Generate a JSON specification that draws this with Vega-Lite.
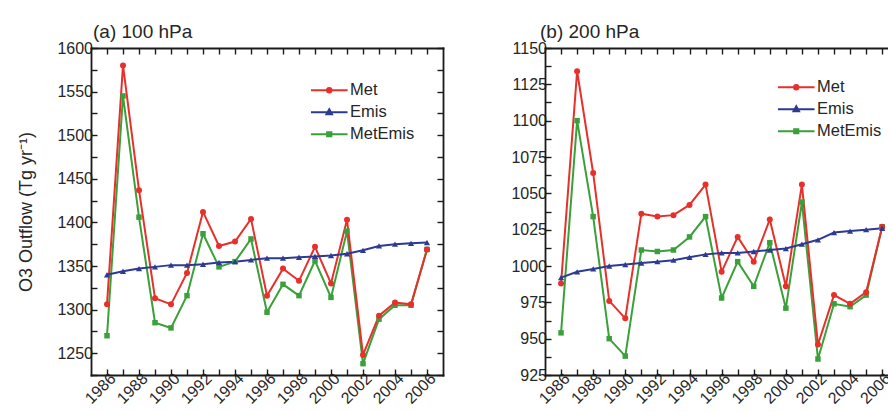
{
  "$schema": "https://vega.github.io/schema/vega-lite/v6.json",
  "background": "white",
  "padding": {"left": 17, "top": 23, "right": 0, "bottom": 0},
  "spacing": 66,
  "config": {
    "font": "Liberation Sans",
    "view": {"stroke": null},
    "axis": {
      "grid": false,
      "domainColor": "#1a1a1a",
      "domainWidth": 1.8,
      "domainCap": "square",
      "tickColor": "#1a1a1a",
      "tickWidth": 1.4,
      "tickSize": -6,
      "labelFont": "Liberation Sans",
      "labelFontSize": 16,
      "labelColor": "#262626",
      "labelOverlap": false,
      "labelBound": false,
      "labelFlush": false,
      "titleFont": "Liberation Sans",
      "titleFontSize": 18,
      "titleFontWeight": "normal",
      "titleColor": "#262626"
    },
    "axisX": {"labelPadding": 1},
    "axisY": {"labelPadding": 4.5},
    "title": {
      "anchor": "start",
      "frame": "group",
      "font": "Liberation Sans",
      "fontSize": 19,
      "fontWeight": "normal",
      "color": "#262626",
      "baseline": "alphabetic",
      "offset": -2
    },
    "legend": {
      "labelFont": "Liberation Sans",
      "labelFontSize": 16.5,
      "labelColor": "#262626",
      "symbolSize": 100,
      "labelOffset": 12.5,
      "rowPadding": 5,
      "padding": 0,
      "titleFont": "Liberation Sans",
      "titleColor": "white"
    }
  },
  "datasets": {
    "a": [
      {"year": 1986, "series": "MetEmis", "value": 1270}, {"year": 1987, "series": "MetEmis", "value": 1545}, {"year": 1988, "series": "MetEmis", "value": 1406}, {"year": 1989, "series": "MetEmis", "value": 1285}, {"year": 1990, "series": "MetEmis", "value": 1279}, {"year": 1991, "series": "MetEmis", "value": 1316}, {"year": 1992, "series": "MetEmis", "value": 1387}, {"year": 1993, "series": "MetEmis", "value": 1349}, {"year": 1994, "series": "MetEmis", "value": 1355}, {"year": 1995, "series": "MetEmis", "value": 1381}, {"year": 1996, "series": "MetEmis", "value": 1297}, {"year": 1997, "series": "MetEmis", "value": 1329}, {"year": 1998, "series": "MetEmis", "value": 1316}, {"year": 1999, "series": "MetEmis", "value": 1356}, {"year": 2000, "series": "MetEmis", "value": 1314}, {"year": 2001, "series": "MetEmis", "value": 1390}, {"year": 2002, "series": "MetEmis", "value": 1238}, {"year": 2003, "series": "MetEmis", "value": 1289}, {"year": 2004, "series": "MetEmis", "value": 1305}, {"year": 2005, "series": "MetEmis", "value": 1305}, {"year": 2006, "series": "MetEmis", "value": 1369},
      {"year": 1986, "series": "Met", "value": 1306}, {"year": 1987, "series": "Met", "value": 1580}, {"year": 1988, "series": "Met", "value": 1437}, {"year": 1989, "series": "Met", "value": 1313}, {"year": 1990, "series": "Met", "value": 1306}, {"year": 1991, "series": "Met", "value": 1342}, {"year": 1992, "series": "Met", "value": 1412}, {"year": 1993, "series": "Met", "value": 1373}, {"year": 1994, "series": "Met", "value": 1378}, {"year": 1995, "series": "Met", "value": 1404}, {"year": 1996, "series": "Met", "value": 1316}, {"year": 1997, "series": "Met", "value": 1347}, {"year": 1998, "series": "Met", "value": 1333}, {"year": 1999, "series": "Met", "value": 1372}, {"year": 2000, "series": "Met", "value": 1330}, {"year": 2001, "series": "Met", "value": 1403}, {"year": 2002, "series": "Met", "value": 1248}, {"year": 2003, "series": "Met", "value": 1293}, {"year": 2004, "series": "Met", "value": 1308}, {"year": 2005, "series": "Met", "value": 1306}, {"year": 2006, "series": "Met", "value": 1369},
      {"year": 1986, "series": "Emis", "value": 1340}, {"year": 1987, "series": "Emis", "value": 1344}, {"year": 1988, "series": "Emis", "value": 1347}, {"year": 1989, "series": "Emis", "value": 1349}, {"year": 1990, "series": "Emis", "value": 1351}, {"year": 1991, "series": "Emis", "value": 1351}, {"year": 1992, "series": "Emis", "value": 1352}, {"year": 1993, "series": "Emis", "value": 1354}, {"year": 1994, "series": "Emis", "value": 1355}, {"year": 1995, "series": "Emis", "value": 1357}, {"year": 1996, "series": "Emis", "value": 1359}, {"year": 1997, "series": "Emis", "value": 1359}, {"year": 1998, "series": "Emis", "value": 1360}, {"year": 1999, "series": "Emis", "value": 1361}, {"year": 2000, "series": "Emis", "value": 1362}, {"year": 2001, "series": "Emis", "value": 1364}, {"year": 2002, "series": "Emis", "value": 1368}, {"year": 2003, "series": "Emis", "value": 1373}, {"year": 2004, "series": "Emis", "value": 1375}, {"year": 2005, "series": "Emis", "value": 1376}, {"year": 2006, "series": "Emis", "value": 1377}
    ],
    "b": [
      {"year": 1986, "series": "MetEmis", "value": 954}, {"year": 1987, "series": "MetEmis", "value": 1100}, {"year": 1988, "series": "MetEmis", "value": 1034}, {"year": 1989, "series": "MetEmis", "value": 950}, {"year": 1990, "series": "MetEmis", "value": 938}, {"year": 1991, "series": "MetEmis", "value": 1011}, {"year": 1992, "series": "MetEmis", "value": 1010}, {"year": 1993, "series": "MetEmis", "value": 1011}, {"year": 1994, "series": "MetEmis", "value": 1020}, {"year": 1995, "series": "MetEmis", "value": 1034}, {"year": 1996, "series": "MetEmis", "value": 978}, {"year": 1997, "series": "MetEmis", "value": 1003}, {"year": 1998, "series": "MetEmis", "value": 986}, {"year": 1999, "series": "MetEmis", "value": 1016}, {"year": 2000, "series": "MetEmis", "value": 971}, {"year": 2001, "series": "MetEmis", "value": 1044}, {"year": 2002, "series": "MetEmis", "value": 936}, {"year": 2003, "series": "MetEmis", "value": 974}, {"year": 2004, "series": "MetEmis", "value": 972}, {"year": 2005, "series": "MetEmis", "value": 980}, {"year": 2006, "series": "MetEmis", "value": 1027},
      {"year": 1986, "series": "Met", "value": 988}, {"year": 1987, "series": "Met", "value": 1134}, {"year": 1988, "series": "Met", "value": 1064}, {"year": 1989, "series": "Met", "value": 976}, {"year": 1990, "series": "Met", "value": 964}, {"year": 1991, "series": "Met", "value": 1036}, {"year": 1992, "series": "Met", "value": 1034}, {"year": 1993, "series": "Met", "value": 1035}, {"year": 1994, "series": "Met", "value": 1042}, {"year": 1995, "series": "Met", "value": 1056}, {"year": 1996, "series": "Met", "value": 996}, {"year": 1997, "series": "Met", "value": 1020}, {"year": 1998, "series": "Met", "value": 1003}, {"year": 1999, "series": "Met", "value": 1032}, {"year": 2000, "series": "Met", "value": 986}, {"year": 2001, "series": "Met", "value": 1056}, {"year": 2002, "series": "Met", "value": 946}, {"year": 2003, "series": "Met", "value": 980}, {"year": 2004, "series": "Met", "value": 974}, {"year": 2005, "series": "Met", "value": 982}, {"year": 2006, "series": "Met", "value": 1027},
      {"year": 1986, "series": "Emis", "value": 992}, {"year": 1987, "series": "Emis", "value": 996}, {"year": 1988, "series": "Emis", "value": 998}, {"year": 1989, "series": "Emis", "value": 1000}, {"year": 1990, "series": "Emis", "value": 1001}, {"year": 1991, "series": "Emis", "value": 1002}, {"year": 1992, "series": "Emis", "value": 1003}, {"year": 1993, "series": "Emis", "value": 1004}, {"year": 1994, "series": "Emis", "value": 1006}, {"year": 1995, "series": "Emis", "value": 1008}, {"year": 1996, "series": "Emis", "value": 1009}, {"year": 1997, "series": "Emis", "value": 1009}, {"year": 1998, "series": "Emis", "value": 1010}, {"year": 1999, "series": "Emis", "value": 1011}, {"year": 2000, "series": "Emis", "value": 1012}, {"year": 2001, "series": "Emis", "value": 1015}, {"year": 2002, "series": "Emis", "value": 1018}, {"year": 2003, "series": "Emis", "value": 1023}, {"year": 2004, "series": "Emis", "value": 1024}, {"year": 2005, "series": "Emis", "value": 1025}, {"year": 2006, "series": "Emis", "value": 1026}
    ]
  },
  "hconcat": [
    {
      "title": {"text": "(a) 100 hPa", "dx": 2},
      "width": 352,
      "height": 327,
      "data": {"name": "a"},
      "layer": [
        {
          "mark": {"type": "line", "strokeWidth": 2},
          "encoding": {
            "x": {"field": "year", "type": "quantitative", "scale": {"domain": [1985, 2007], "nice": false, "zero": false},
              "axis": {"orient": "bottom", "title": null, "format": "d", "labelAngle": -45, "values": [1986,1987,1988,1989,1990,1991,1992,1993,1994,1995,1996,1997,1998,1999,2000,2001,2002,2003,2004,2005,2006], "labelExpr": "datum.value % 2 == 0 ? datum.label : ''"}},
            "y": {"field": "value", "type": "quantitative", "scale": {"domain": [1225, 1600], "nice": false, "zero": false},
              "axis": {"orient": "left", "title": "O3 Outflow (Tg yr⁻¹)", "titlePadding": 21.5, "format": "d", "values": [1225,1250,1275,1300,1325,1350,1375,1400,1425,1450,1475,1500,1525,1550,1575,1600], "labelExpr": "datum.value % 50 == 0 ? datum.label : ''"}},
            "color": {"field": "series", "type": "nominal", "scale": {"domain": ["Met", "Emis", "MetEmis"], "range": ["#e8302b", "#2d3a94", "#3aa03a"]},
              "legend": {
                "orient": "top-right", "offset": 28, "title": " ", "titleFontSize": 4, "titlePadding": 2,
                "encode": {"symbols": {"update": {
                  "shape": {"signal": "datum.value === 'Met' ? 'M-3.66,0H3.66M0.44,0A0.44,0.44,0,1,1,-0.44,0A0.44,0.44,0,1,1,0.44,0Z' : datum.value === 'Emis' ? 'M-3.66,0H3.66M0,-0.6L0.55,0.42L-0.55,0.42Z' : 'M-3.66,0H3.66M-0.42,-0.42H0.42V0.42H-0.42Z'"},
                  "fill": {"signal": "datum.value === 'Met' ? '#e8302b' : datum.value === 'Emis' ? '#2d3a94' : '#3aa03a'"},
                  "stroke": {"signal": "datum.value === 'Met' ? '#e8302b' : datum.value === 'Emis' ? '#2d3a94' : '#3aa03a'"},
                  "strokeWidth": {"value": 2},
                  "opacity": {"value": 1}
                }}}
              }}
          }
        },
        {
          "transform": [{"filter": "datum.series === 'MetEmis'"}],
          "mark": {"type": "point", "shape": "square", "filled": true, "opacity": 1, "strokeWidth": 0, "size": 30, "color": "#3aa03a"},
          "encoding": {
            "x": {"field": "year", "type": "quantitative", "axis": {"orient": "top", "title": null, "labels": false, "values": [1986,1987,1988,1989,1990,1991,1992,1993,1994,1995,1996,1997,1998,1999,2000,2001,2002,2003,2004,2005,2006]}},
            "y": {"field": "value", "type": "quantitative", "axis": {"orient": "right", "title": null, "labels": false, "values": [1225,1250,1275,1300,1325,1350,1375,1400,1425,1450,1475,1500,1525,1550,1575,1600]}}
          }
        },
        {
          "transform": [{"filter": "datum.series === 'Met'"}],
          "mark": {"type": "point", "shape": "circle", "filled": true, "opacity": 1, "strokeWidth": 0, "size": 36, "color": "#e8302b"},
          "encoding": {
            "x": {"field": "year", "type": "quantitative", "axis": null},
            "y": {"field": "value", "type": "quantitative", "axis": null}
          }
        },
        {
          "transform": [{"filter": "datum.series === 'Emis'"}],
          "mark": {"type": "point", "shape": "triangle-up", "filled": true, "opacity": 1, "strokeWidth": 0, "size": 38, "color": "#2d3a94"},
          "encoding": {
            "x": {"field": "year", "type": "quantitative", "axis": null},
            "y": {"field": "value", "type": "quantitative", "axis": null}
          }
        }
      ],
      "resolve": {"axis": {"x": "independent", "y": "independent"}}
    },
    {
      "title": {"text": "(b) 200 hPa", "dx": -5},
      "width": 342,
      "height": 327,
      "data": {"name": "b"},
      "layer": [
        {
          "mark": {"type": "line", "strokeWidth": 2},
          "encoding": {
            "x": {"field": "year", "type": "quantitative", "scale": {"domain": [1985, 2006.3], "nice": false, "zero": false},
              "axis": {"orient": "bottom", "title": null, "format": "d", "labelAngle": -45, "values": [1986,1987,1988,1989,1990,1991,1992,1993,1994,1995,1996,1997,1998,1999,2000,2001,2002,2003,2004,2005,2006], "labelExpr": "datum.value % 2 == 0 ? datum.label : ''"}},
            "y": {"field": "value", "type": "quantitative", "scale": {"domain": [925, 1150], "nice": false, "zero": false},
              "axis": {"orient": "left", "title": null, "format": "d", "values": [925,937.5,950,962.5,975,987.5,1000,1012.5,1025,1037.5,1050,1062.5,1075,1087.5,1100,1112.5,1125,1137.5,1150], "labelExpr": "datum.value % 25 == 0 ? datum.label : ''"}},
            "color": {"field": "series", "type": "nominal", "scale": {"domain": ["Met", "Emis", "MetEmis"], "range": ["#e8302b", "#2d3a94", "#3aa03a"]},
              "legend": {
                "orient": "top-right", "offset": 5, "title": " ", "titleFontSize": 20, "titlePadding": 6,
                "encode": {"symbols": {"update": {
                  "shape": {"signal": "datum.value === 'Met' ? 'M-3.66,0H3.66M0.44,0A0.44,0.44,0,1,1,-0.44,0A0.44,0.44,0,1,1,0.44,0Z' : datum.value === 'Emis' ? 'M-3.66,0H3.66M0,-0.6L0.55,0.42L-0.55,0.42Z' : 'M-3.66,0H3.66M-0.42,-0.42H0.42V0.42H-0.42Z'"},
                  "fill": {"signal": "datum.value === 'Met' ? '#e8302b' : datum.value === 'Emis' ? '#2d3a94' : '#3aa03a'"},
                  "stroke": {"signal": "datum.value === 'Met' ? '#e8302b' : datum.value === 'Emis' ? '#2d3a94' : '#3aa03a'"},
                  "strokeWidth": {"value": 2},
                  "opacity": {"value": 1}
                }}}
              }}
          }
        },
        {
          "transform": [{"filter": "datum.series === 'MetEmis'"}],
          "mark": {"type": "point", "shape": "square", "filled": true, "opacity": 1, "strokeWidth": 0, "size": 30, "color": "#3aa03a"},
          "encoding": {
            "x": {"field": "year", "type": "quantitative", "axis": {"orient": "top", "title": null, "labels": false, "values": [1986,1987,1988,1989,1990,1991,1992,1993,1994,1995,1996,1997,1998,1999,2000,2001,2002,2003,2004,2005,2006]}},
            "y": {"field": "value", "type": "quantitative", "axis": null}
          }
        },
        {
          "transform": [{"filter": "datum.series === 'Met'"}],
          "mark": {"type": "point", "shape": "circle", "filled": true, "opacity": 1, "strokeWidth": 0, "size": 36, "color": "#e8302b"},
          "encoding": {
            "x": {"field": "year", "type": "quantitative", "axis": null},
            "y": {"field": "value", "type": "quantitative", "axis": null}
          }
        },
        {
          "transform": [{"filter": "datum.series === 'Emis'"}],
          "mark": {"type": "point", "shape": "triangle-up", "filled": true, "opacity": 1, "strokeWidth": 0, "size": 38, "color": "#2d3a94"},
          "encoding": {
            "x": {"field": "year", "type": "quantitative", "axis": null},
            "y": {"field": "value", "type": "quantitative", "axis": null}
          }
        }
      ],
      "resolve": {"axis": {"x": "independent", "y": "independent"}}
    }
  ],
  "resolve": {"scale": {"x": "independent", "y": "independent", "color": "independent"}, "legend": {"color": "independent"}}
}
